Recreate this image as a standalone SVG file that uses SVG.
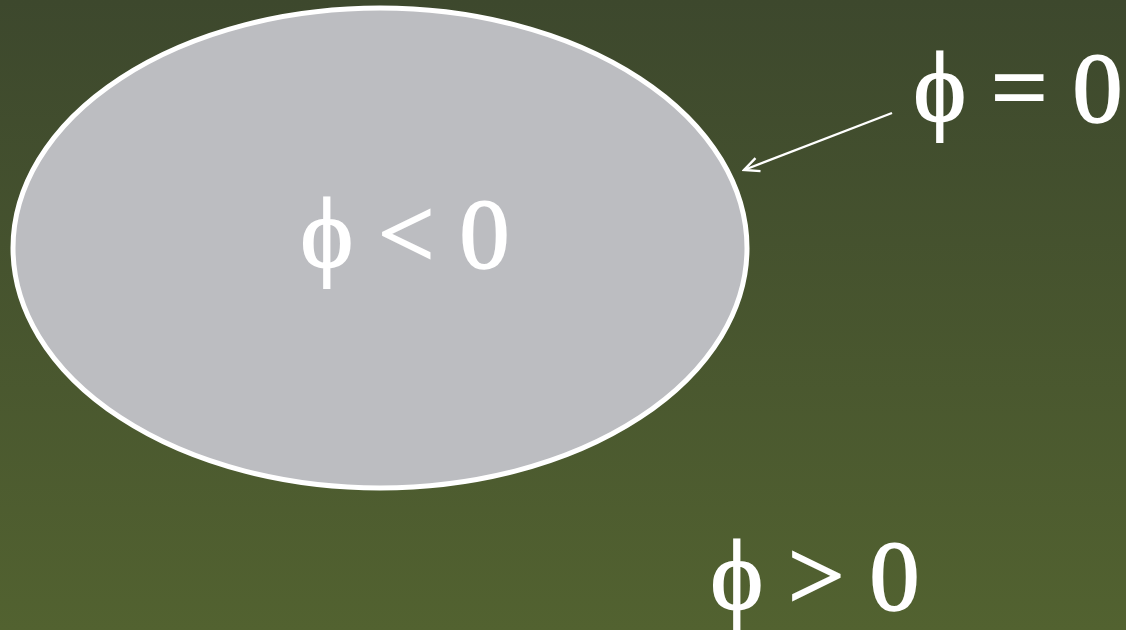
<svg xmlns="http://www.w3.org/2000/svg" width="1126" height="630" viewBox="0 0 1126 630">
<defs>
<linearGradient id="bg" x1="0" y1="0" x2="0" y2="1">
<stop offset="0" stop-color="#3d482d"/>
<stop offset="1" stop-color="#526230"/>
</linearGradient>
<marker id="arr" viewBox="0 0 20 20" refX="18" refY="10" markerWidth="20" markerHeight="20" markerUnits="userSpaceOnUse" orient="auto">
<path d="M3,3 L18,10 L3,17" fill="none" stroke="#ffffff" stroke-width="2.4"/>
</marker>
<style>
.lbl{font-family:"Liberation Serif","DejaVu Serif",serif;font-size:100px;fill:#ffffff;stroke:#ffffff;stroke-width:1.8;text-anchor:middle}
</style>
</defs>
<rect width="1126" height="630" fill="url(#bg)"/>
<g id="region-inside">
<ellipse cx="380" cy="248" rx="367" ry="240" fill="#bcbdc1" stroke="#ffffff" stroke-width="5"/>
<text class="lbl" x="405" y="267">ϕ &lt; 0</text>
</g>
<g id="label-boundary">
<text class="lbl" x="1018" y="121">ϕ = 0</text>
</g>
<g id="label-outside">
<text class="lbl" x="815" y="609">ϕ &gt; 0</text>
</g>
<g id="connectors">
<line x1="892" y1="113" x2="744" y2="170" stroke="#ffffff" stroke-width="2.4" marker-end="url(#arr)"/>
</g>
</svg>
